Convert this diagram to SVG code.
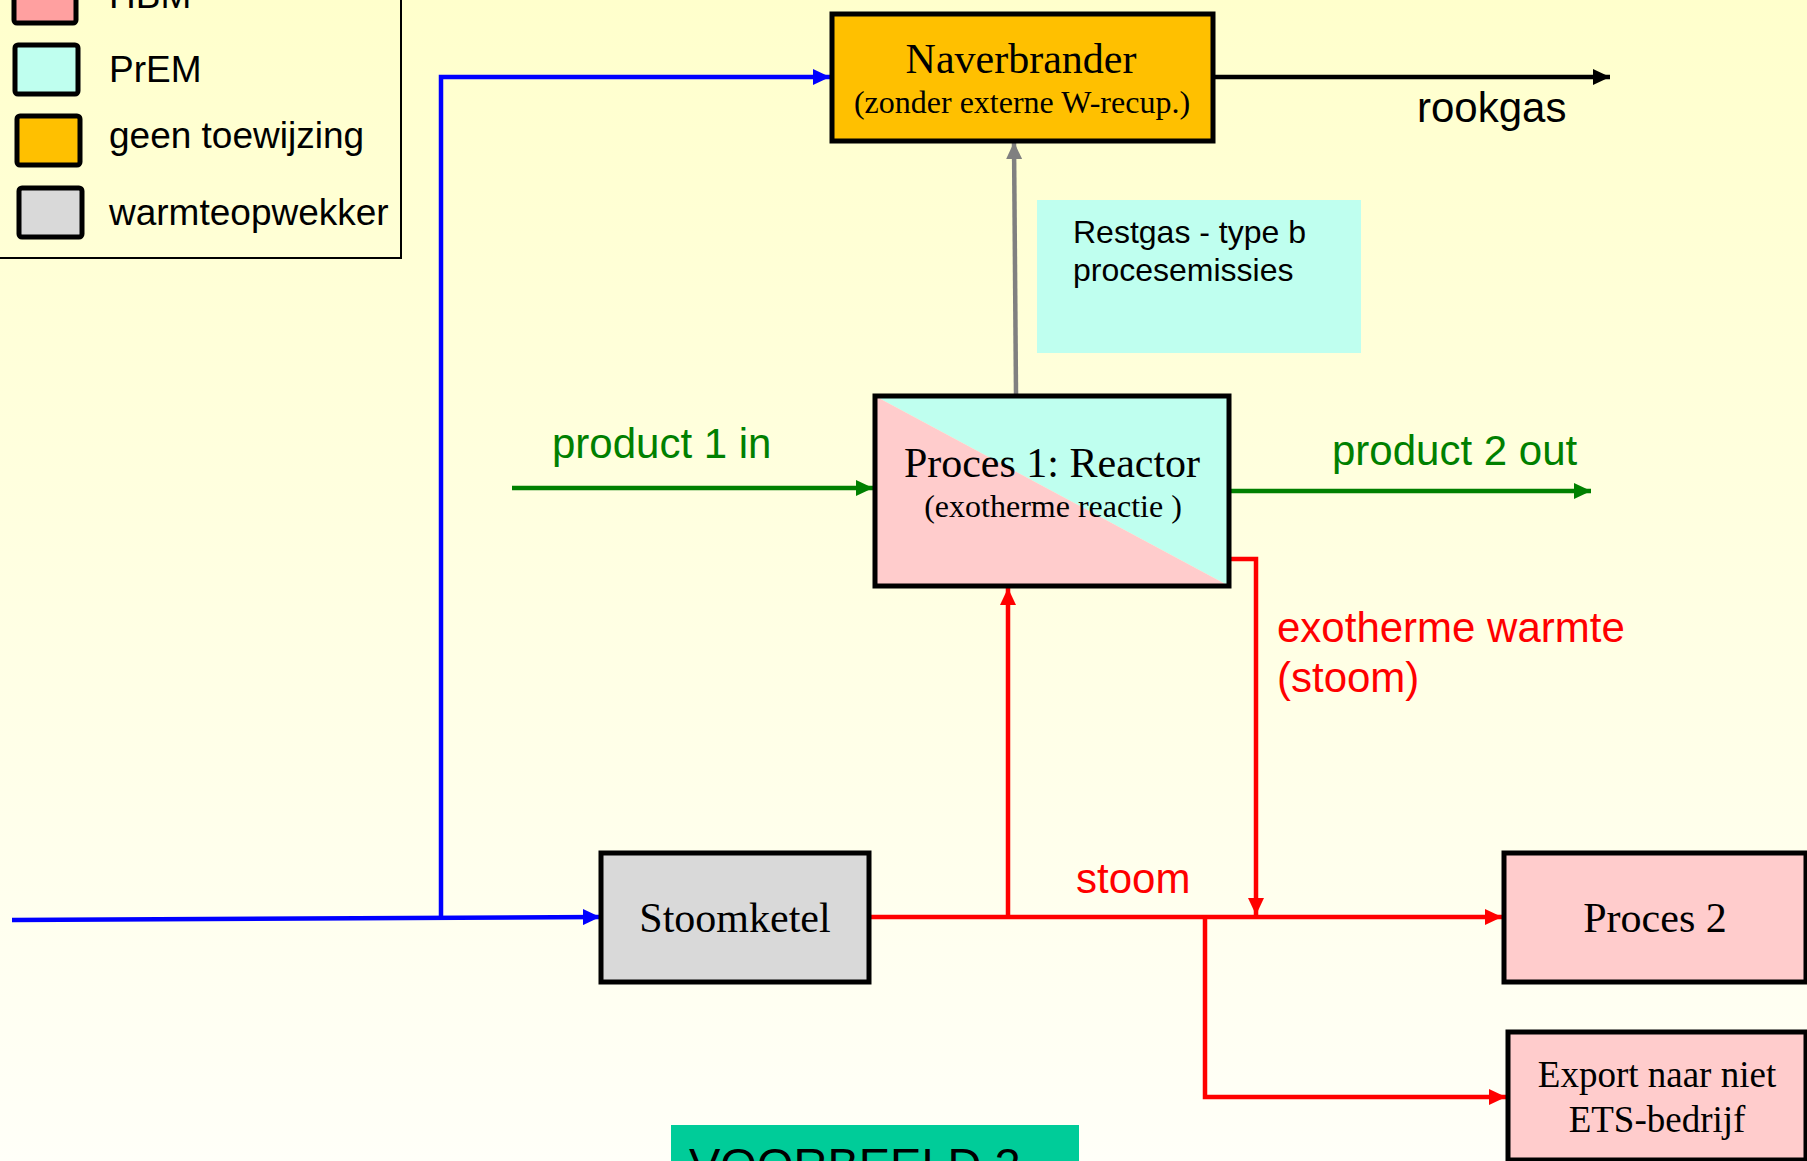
<svg xmlns="http://www.w3.org/2000/svg" width="1807" height="1161" viewBox="0 0 1807 1161">
<defs>
<linearGradient id="bg" x1="0" y1="0" x2="0" y2="1">
<stop offset="0" stop-color="#FFFFCC"/>
<stop offset="1" stop-color="#FFFFF8"/>
</linearGradient>
<marker id="ab" markerUnits="userSpaceOnUse" markerWidth="18" markerHeight="16" refX="17" refY="8" orient="auto"><path d="M0,0 L17,8 L0,16 z" fill="#0000FF"/></marker>
<marker id="ag" markerUnits="userSpaceOnUse" markerWidth="18" markerHeight="16" refX="17" refY="8" orient="auto"><path d="M0,0 L17,8 L0,16 z" fill="#008000"/></marker>
<marker id="ar" markerUnits="userSpaceOnUse" markerWidth="18" markerHeight="16" refX="17" refY="8" orient="auto"><path d="M0,0 L17,8 L0,16 z" fill="#FF0000"/></marker>
<marker id="ay" markerUnits="userSpaceOnUse" markerWidth="18" markerHeight="16" refX="17" refY="8" orient="auto"><path d="M0,0 L17,8 L0,16 z" fill="#808080"/></marker>
<marker id="ak" markerUnits="userSpaceOnUse" markerWidth="18" markerHeight="16" refX="17" refY="8" orient="auto"><path d="M0,0 L17,8 L0,16 z" fill="#000000"/></marker>
</defs>
<style>
.box{stroke:#000;stroke-width:5;}
.sw{stroke:#000;stroke-width:5;}
.serif{font-family:"Liberation Serif","Times New Roman",serif;fill:#000;}
.sans{font-family:"Liberation Sans",Arial,sans-serif;}
.ln{fill:none;stroke-width:4.5;}
</style>
<rect x="0" y="0" width="1807" height="1161" fill="url(#bg)"/>

<g id="legend">
<rect x="-5" y="-10" width="406" height="268" fill="none" stroke="#000" stroke-width="2"/>
<rect class="sw" x="14" y="-26" width="62" height="49" rx="3" fill="#FFA0A0"/>
<rect class="sw" x="15" y="45" width="63" height="49" rx="3" fill="#BFFFEF"/>
<rect class="sw" x="17" y="116" width="63" height="49" rx="3" fill="#FFC000"/>
<rect class="sw" x="19" y="188" width="63" height="49" rx="3" fill="#D9D9D9"/>
<text class="sans" x="109" y="8" font-size="37" fill="#000">HBM</text>
<text class="sans" x="109" y="82" font-size="37" fill="#000">PrEM</text>
<text class="sans" x="109" y="148" font-size="37" fill="#000">geen toewijzing</text>
<text class="sans" x="109" y="225" font-size="37" fill="#000">warmteopwekker</text>
</g>

<g id="connectors">
<path class="ln" d="M12,920 L600,917" stroke="#0000FF" marker-end="url(#ab)"/>
<path class="ln" d="M441,917 L441,77 L830,77" stroke="#0000FF" marker-end="url(#ab)"/>
<path class="ln" d="M1016,394 L1014,142" stroke="#808080" stroke-width="3.5" marker-end="url(#ay)"/>
<path class="ln" d="M1215,77 L1610,77" stroke="#000" marker-end="url(#ak)"/>
<path class="ln" d="M512,488 L873,488" stroke="#008000" marker-end="url(#ag)"/>
<path class="ln" d="M1230,491 L1591,491" stroke="#008000" marker-end="url(#ag)"/>
<path class="ln" d="M871,917 L1502,917" stroke="#FF0000" marker-end="url(#ar)"/>
<path class="ln" d="M1008,917 L1008,588" stroke="#FF0000" marker-end="url(#ar)"/>
<path class="ln" d="M1230,559 L1256,559 L1256,915" stroke="#FF0000" marker-end="url(#ar)"/>
<path class="ln" d="M1205,917 L1205,1097 L1506,1097" stroke="#FF0000" marker-end="url(#ar)"/>
<text class="sans" x="1417" y="122" font-size="42" fill="#000">rookgas</text>
<text class="sans" x="552" y="458" font-size="42" fill="#008000">product 1 in</text>
<text class="sans" x="1332" y="465" font-size="42" fill="#008000">product 2 out</text>
<text class="sans" x="1277" y="642" font-size="42" fill="#FF0000">exotherme warmte</text>
<text class="sans" x="1277" y="692" font-size="42" fill="#FF0000">(stoom)</text>
<text class="sans" x="1076" y="893" font-size="42" fill="#FF0000">stoom</text>
</g>

<g id="naverbrander">
<rect class="box" x="832" y="14" width="381" height="127" fill="#FFC000"/>
<text class="serif" x="1021" y="73" font-size="42" text-anchor="middle">Naverbrander</text>
<text class="serif" x="1022" y="113" font-size="32" text-anchor="middle">(zonder externe W-recup.)</text>
</g>

<g id="restgas">
<rect x="1037" y="200" width="324" height="153" fill="#BFFFEF"/>
<text class="sans" x="1073" y="243" font-size="32" fill="#000">Restgas - type b</text>
<text class="sans" x="1073" y="281" font-size="32" fill="#000">procesemissies</text>
</g>

<g id="reactor">
<polygon points="875,396 1229,396 1229,586" fill="#BFFFEF"/>
<polygon points="875,396 1229,586 875,586" fill="#FFCCCC"/>
<rect class="box" x="875" y="396" width="354" height="190" fill="none"/>
<text class="serif" x="1052" y="477" font-size="42" text-anchor="middle">Proces 1: Reactor</text>
<text class="serif" x="1053" y="517" font-size="32" text-anchor="middle">(exotherme reactie )</text>
</g>

<g id="stoomketel">
<rect class="box" x="601" y="853" width="268" height="129" fill="#D9D9D9"/>
<text class="serif" x="735" y="932" font-size="42" text-anchor="middle">Stoomketel</text>
</g>

<g id="proces2">
<rect class="box" x="1504" y="853" width="302" height="129" fill="#FFCCCC"/>
<text class="serif" x="1655" y="932" font-size="42" text-anchor="middle">Proces 2</text>
</g>

<g id="export">
<rect class="box" x="1508" y="1032" width="298" height="128" fill="#FFCCCC"/>
<text class="serif" x="1657" y="1087" font-size="37" text-anchor="middle">Export naar niet</text>
<text class="serif" x="1657" y="1132" font-size="37" text-anchor="middle">ETS-bedrijf</text>
</g>

<g id="voorbeeld">
<rect x="671" y="1125" width="408" height="50" fill="#00CC99"/>
<text class="sans" x="689" y="1181" font-size="47" fill="#000">VOORBEELD 2</text>
</g>
</svg>
